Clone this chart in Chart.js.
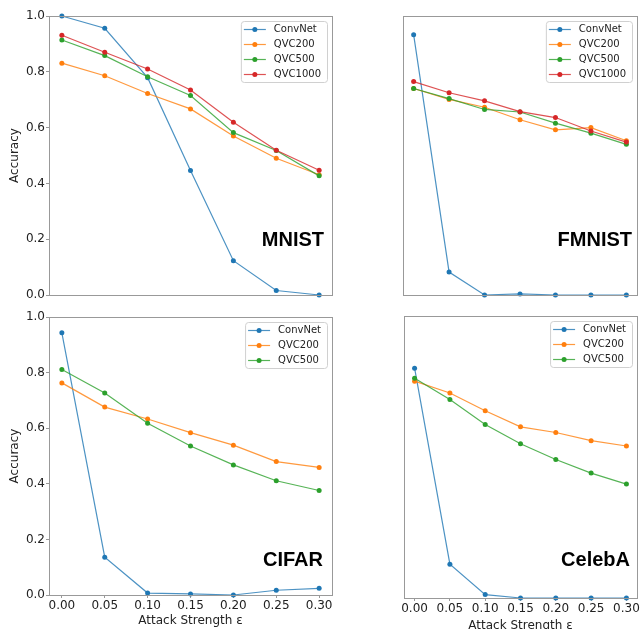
<!DOCTYPE html>
<html>
<head>
<meta charset="utf-8">
<script src="https://cdn.jsdelivr.net/npm/chart.js@4.4.0/dist/chart.umd.min.js"></script>
<style>
  html, body { margin: 0; padding: 0; background: #fff; }
  body { width: 641px; height: 629px; position: relative; overflow: hidden; }
  canvas { position: absolute; }
</style>
</head>
<body>
<canvas id="mnist" width="340" height="310" style="left:0;top:0"></canvas>
<canvas id="fmnist" width="301" height="310" style="left:340px;top:0"></canvas>
<canvas id="cifar" width="340" height="329" style="left:0;top:300px"></canvas>
<canvas id="celeba" width="301" height="340" style="left:340px;top:300px"></canvas>
<script>
// attack strengths (x) and tick values
var epsilons = [0, 0.05, 0.10, 0.15, 0.20, 0.25, 0.30];
var xTicks = [0, 0.05, 0.10, 0.15, 0.20, 0.25, 0.30];
var yTicks = [0, 0.2, 0.4, 0.6, 0.8, 1.0];

var seriesNames = ['ConvNet', 'QVC200', 'QVC500', 'QVC1000'];
var seriesColors = ['#1f77b4', '#ff7f0e', '#2ca02c', '#d62728'];
var lineColors = ['rgba(31,119,180,0.8)', 'rgba(255,127,14,0.8)', 'rgba(44,160,44,0.8)', 'rgba(214,39,40,0.8)'];

// MNIST
var mnistConvNet = [1.0, 0.956, 0.779, 0.446, 0.123, 0.016, 0.0];
var mnistQVC200 = [0.831, 0.786, 0.722, 0.667, 0.570, 0.490, 0.431];
var mnistQVC500 = [0.914, 0.858, 0.782, 0.715, 0.582, 0.518, 0.427];
var mnistQVC1000 = [0.931, 0.870, 0.810, 0.735, 0.619, 0.519, 0.447];

// FMNIST
var fmnistConvNet = [0.933, 0.082, 0.0, 0.004, 0.0, 0.0, 0.0];
var fmnistQVC200 = [0.740, 0.701, 0.673, 0.628, 0.592, 0.600, 0.553];
var fmnistQVC500 = [0.740, 0.704, 0.665, 0.656, 0.616, 0.580, 0.540];
var fmnistQVC1000 = [0.765, 0.725, 0.696, 0.657, 0.636, 0.588, 0.548];

// CIFAR
var cifarConvNet = [0.943, 0.136, 0.007, 0.004, 0.0, 0.017, 0.024];
var cifarQVC200 = [0.763, 0.676, 0.633, 0.584, 0.539, 0.480, 0.459];
var cifarQVC500 = [0.811, 0.727, 0.618, 0.536, 0.468, 0.411, 0.376];

// CelebA
var celebaConvNet = [0.815, 0.120, 0.012, 0.0, 0.0, 0.0, 0.0];
var celebaQVC200 = [0.769, 0.727, 0.664, 0.607, 0.587, 0.558, 0.539];
var celebaQVC500 = [0.779, 0.704, 0.615, 0.547, 0.491, 0.443, 0.404];

Chart.defaults.font.family = '"DejaVu Sans", sans-serif';
Chart.defaults.font.size = 12;
Chart.defaults.color = '#222';

function drawLegend(chart, names, colors, lines) {
    var ctx = chart.ctx, a = chart.chartArea;
    ctx.save();
    ctx.font = '10px "DejaVu Sans"';
    var tw = Math.max.apply(null, names.map(function(n) { return ctx.measureText(n).width; }));
    var w = 33 + tw + 6, h = 16 + 15 * (names.length - 1);
    var x0 = a.right - 5 - w, y0 = a.top + 5;
    ctx.beginPath();
    ctx.roundRect(x0 + 0.5, y0 + 0.5, w, h, 3);
    ctx.fillStyle = 'rgba(255,255,255,0.85)';
    ctx.fill();
    ctx.strokeStyle = '#d0d0d0';
    ctx.lineWidth = 1;
    ctx.stroke();
    names.forEach(function(n, i) {
        var y = y0 + 8.5 + 15 * i;
        ctx.strokeStyle = lines[i];
        ctx.lineWidth = 1.2;
        ctx.beginPath();
        ctx.moveTo(x0 + 3, y);
        ctx.lineTo(x0 + 25, y);
        ctx.stroke();
        ctx.fillStyle = colors[i];
        ctx.beginPath();
        ctx.arc(x0 + 14, y, 2.5, 0, Math.PI * 2);
        ctx.fill();
        ctx.fillStyle = '#222';
        ctx.textBaseline = 'middle';
        ctx.fillText(n, x0 + 33, y);
    });
    ctx.restore();
}

function makePanel(id, name, series, opt) {
    var names = seriesNames.slice(0, series.length);
    var colors = seriesColors.slice(0, series.length);
    var lines = lineColors.slice(0, series.length);
    var datasets = series.map(function(vals, i) {
        return {
            label: names[i],
            data: vals.map(function(v, j) { return { x: epsilons[j], y: v }; }),
            borderColor: lines[i],
            backgroundColor: colors[i],
            borderWidth: 1.2,
            pointRadius: 2.5,
            pointBorderWidth: 0,
            tension: 0,
            clip: false,
            order: -i
        };
    });

    var decor = {
        id: 'decor',
        afterDatasetsDraw: function(chart) {
            var ctx = chart.ctx, a = chart.chartArea;
            ctx.save();
            ctx.strokeStyle = '#999';
            ctx.lineWidth = 1;
            ctx.strokeRect(Math.round(a.left) + 0.5, Math.round(a.top) + 0.5,
                Math.round(a.right - a.left), Math.round(a.bottom - a.top));
            // dataset name
            ctx.font = 'bold 20px "Liberation Sans", Arial, sans-serif';
            ctx.fillStyle = '#000';
            ctx.textAlign = 'right';
            ctx.textBaseline = 'alphabetic';
            ctx.fillText(name, a.right - opt.nameRight, a.bottom - opt.nameBottom);
            ctx.restore();
            drawLegend(chart, names, colors, lines);
        }
    };

    var tickGrid = { display: true, drawOnChartArea: false, drawTicks: true, tickLength: 3, color: '#999' };

    return new Chart(document.getElementById(id), {
        type: 'line',
        data: { datasets: datasets },
        options: {
            responsive: false,
            animation: false,
            events: [],
            layout: { padding: opt.padding },
            plugins: { legend: { display: false }, tooltip: { enabled: false } },
            scales: {
                x: {
                    type: 'linear',
                    min: -0.015,
                    max: 0.315,
                    display: opt.showX,
                    afterBuildTicks: function(s) { s.ticks = xTicks.map(function(v) { return { value: v }; }); },
                    afterFit: function(s) { s.height = opt.xHeight; },
                    grid: tickGrid,
                    border: { display: false },
                    ticks: {
                        padding: opt.xTickPad,
                        maxRotation: 0,
                        autoSkip: false,
                        callback: function(v) { return v.toFixed(2); }
                    },
                    title: {
                        display: true,
                        text: 'Attack Strength ε',
                        padding: { top: 0, bottom: opt.xTitlePad }
                    }
                },
                y: {
                    min: 0,
                    max: 1,
                    display: opt.showY,
                    afterBuildTicks: function(s) { s.ticks = yTicks.map(function(v) { return { value: v }; }); },
                    afterFit: function(s) { s.width = 49; },
                    grid: tickGrid,
                    border: { display: false },
                    ticks: {
                        padding: 1,
                        callback: function(v) { return v.toFixed(1); }
                    },
                    title: {
                        display: true,
                        text: 'Accuracy',
                        padding: { top: 8, bottom: 0 }
                    }
                }
            }
        },
        plugins: [decor]
    });
}

makePanel('mnist', 'MNIST', [mnistConvNet, mnistQVC200, mnistQVC500, mnistQVC1000], {
    padding: { top: 16, right: 8, bottom: 15, left: 0 },
    showX: false, showY: true, xHeight: 0, xTickPad: 0, xTitlePad: 0,
    nameRight: 8, nameBottom: 49
});
makePanel('fmnist', 'FMNIST', [fmnistConvNet, fmnistQVC200, fmnistQVC500, fmnistQVC1000], {
    padding: { top: 16, right: 4, bottom: 15, left: 14 },
    showX: false, showY: false, xHeight: 0, xTickPad: 0, xTitlePad: 0,
    nameRight: 5, nameBottom: 49
});
makePanel('cifar', 'CIFAR', [cifarConvNet, cifarQVC200, cifarQVC500], {
    padding: { top: 17, right: 8, bottom: 0, left: 0 },
    showX: true, showY: true, xHeight: 34, xTickPad: 1, xTitlePad: 1,
    nameRight: 9, nameBottom: 29
});
makePanel('celeba', 'CelebA', [celebaConvNet, celebaQVC200, celebaQVC500], {
    padding: { top: 16, right: 1, bottom: 0, left: 15 },
    showX: true, showY: false, xHeight: 42, xTickPad: 1, xTitlePad: 7,
    nameRight: 7, nameBottom: 32
});
</script>
</body>
</html>
